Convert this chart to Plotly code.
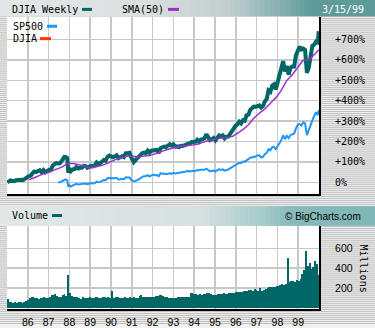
import numpy as np
import pandas as pd
import plotly.graph_objects as go

W, H = 375, 328

# ---------------- data ----------------
# DJIA month-end levels, Jan 1985 .. Feb 1999
djia_monthly = [
    1277, 1299, 1267, 1258, 1315, 1336, 1347, 1334, 1329, 1374, 1472, 1547,
    1571, 1709, 1819, 1784, 1877, 1893, 1775, 1898, 1768, 1878, 1914, 1896,
    2158, 2224, 2305, 2286, 2292, 2419, 2572, 2663, 2596, 1994, 1834, 1939,
    1958, 2072, 1988, 2032, 2031, 2142, 2129, 2032, 2113, 2149, 2115, 2169,
    2342, 2258, 2294, 2419, 2480, 2440, 2661, 2737, 2693, 2645, 2706, 2753,
    2591, 2627, 2707, 2657, 2877, 2881, 2905, 2614, 2453, 2442, 2560, 2634,
    2736, 2882, 2914, 2888, 3028, 2907, 3025, 3044, 3017, 3069, 2895, 3169,
    3224, 3267, 3236, 3359, 3397, 3319, 3394, 3257, 3272, 3226, 3305, 3301,
    3310, 3371, 3435, 3428, 3527, 3516, 3540, 3651, 3555, 3681, 3684, 3754,
    3978, 3832, 3636, 3682, 3758, 3625, 3765, 3913, 3843, 3908, 3739, 3834,
    3844, 4011, 4158, 4321, 4465, 4556, 4708, 4611, 4789, 4756, 5075, 5117,
    5395, 5486, 5587, 5569, 5643, 5655, 5529, 5616, 5882, 6029, 6522, 6448,
    6813, 6878, 6584, 7009, 7331, 7673, 8223, 7622, 7945, 7442, 7823, 7908,
    7907, 8546, 8800, 9063, 8900, 8952, 8883, 7539, 7843, 8592, 9117, 9181,
    9359, 9307,
]
djia_extra_dates = ["1985-01-04", "1987-08-25", "1987-10-19", "1990-10-11", "1999-03-15"]
djia_extra_vals = [1185, 2722, 1739, 2365, 9958]

# S&P 500 month-end levels, Apr 1987 .. Feb 1999
sp500_monthly = [
    288.4, 290.1, 304.0, 318.7, 329.8, 321.8, 251.8, 230.3, 247.1,
    257.1, 267.8, 258.9, 261.3, 262.2, 273.5, 272.0, 261.5, 271.9, 278.9, 273.7, 277.7,
    297.5, 288.9, 294.9, 309.6, 320.5, 318.0, 346.1, 351.5, 349.2, 340.4, 346.0, 353.4,
    329.1, 331.9, 339.9, 330.8, 361.2, 358.0, 356.2, 322.6, 306.1, 304.0, 322.2, 330.2,
    343.9, 367.1, 375.2, 375.3, 389.8, 371.2, 387.8, 395.4, 387.9, 392.5, 375.2, 417.1,
    408.8, 412.7, 403.7, 415.0, 415.4, 408.1, 424.2, 414.0, 417.8, 418.7, 431.4, 435.7,
    438.8, 443.4, 451.7, 440.2, 450.2, 450.5, 448.1, 463.6, 458.9, 467.8, 461.8, 466.5,
    481.6, 467.1, 445.8, 450.9, 456.5, 444.3, 458.3, 475.5, 462.7, 472.4, 453.7, 459.3,
    470.4, 487.4, 500.7, 514.7, 533.4, 544.8, 562.1, 561.9, 584.4, 581.5, 605.4, 615.9,
    636.0, 640.4, 645.5, 654.2, 669.1, 670.6, 640.0, 652.0, 687.3, 705.3, 757.0, 740.7,
    786.2, 790.8, 757.1, 801.3, 848.3, 885.1, 954.3, 899.5, 947.3, 914.6, 955.4, 970.4,
    980.3, 1049.3, 1101.8, 1111.8, 1090.8, 1133.8, 1120.7, 957.3, 1017.0, 1098.7, 1163.6, 1229.2,
    1279.6, 1238.3,
]
sp500_extra_dates = ["1987-10-19", "1999-03-15"]
sp500_extra_vals = [224.8, 1307.3]

# 50-week SMA of DJIA, quarter ends Dec 1985 .. Dec 1998, then 3/15/99
sma50_quarterly = [
    1346,
    1451, 1588, 1707, 1815,
    1948, 2068, 2267, 2274,
    2218, 2152, 2022, 2078,
    2151, 2245, 2396, 2536,
    2622, 2711, 2701, 2662,
    2713, 2747, 2840, 2965,
    3064, 3168, 3238, 3296,
    3329, 3362, 3430, 3538,
    3649, 3698, 3763, 3793,
    3840, 4030, 4245, 4534,
    4906, 5199, 5443, 5780,
    6097, 6526, 7090, 7438,
    7852, 8261, 8300, 8610,
    8891,
]

# Volume (millions), monthly Jan 1985 .. Mar 1999
volume_monthly = [
    90, 58, 55, 52, 56, 54, 58, 55, 52, 62, 72, 75,
    98, 105, 110, 98, 95, 92, 98, 102, 112, 95, 102, 108,
    128, 125, 135, 120, 110, 112, 125, 140, 122, 333, 150, 118,
    112, 108, 105, 100, 92, 110, 98, 95, 98, 105, 102, 100,
    110, 105, 100, 104, 110, 108, 100, 112, 104, 175, 100, 105,
    110, 100, 98, 96, 108, 100, 104, 112, 100, 105, 98, 104,
    118, 130, 112, 110, 108, 105, 110, 108, 112, 115, 118, 128,
    128, 118, 105, 108, 100, 102, 100, 98, 102, 106, 110, 108,
    110, 112, 108, 112, 155, 150, 140, 135, 132, 138, 132, 135,
    142, 145, 155, 138, 128, 132, 130, 140, 142, 138, 150, 140,
    142, 145, 150, 148, 152, 160, 165, 158, 160, 168, 172, 168,
    178, 185, 175, 195, 178, 172, 200, 175, 182, 195, 205, 210,
    210, 215, 208, 225, 218, 230, 240, 235, 245, 507, 260, 270,
    275, 265, 280, 275, 290, 340, 380, 573, 420, 450, 390, 410,
    470, 440, 330,
]

pct_ticks = [0, 100, 200, 300, 400, 500, 600, 700]
pct_labels = ["0%", "+100%", "+200%", "+300%", "+400%", "+500%", "+600%", "+700%"]
vol_ticks = [200, 400, 600]
vol_labels = ["200", "400", "600"]
year_labels = ["86", "87", "88", "89", "90", "91", "92", "93",
               "94", "95", "96", "97", "98", "99"]

# ---------------- build series ----------------
djia = pd.concat([
    pd.Series(djia_monthly, index=pd.date_range("1985-01-31", periods=len(djia_monthly), freq="ME")),
    pd.Series(djia_extra_vals, index=pd.to_datetime(djia_extra_dates)),
]).sort_index()
djia_base = djia.iloc[0]
djia_pct = (djia / djia_base - 1) * 100

sp = pd.concat([
    pd.Series(sp500_monthly, index=pd.date_range("1987-04-30", periods=len(sp500_monthly), freq="ME")),
    pd.Series(sp500_extra_vals, index=pd.to_datetime(sp500_extra_dates)),
]).sort_index()
sp_pct = (sp / sp.iloc[0] - 1) * 100

sma_idx = list(pd.date_range("1985-12-31", periods=len(sma50_quarterly) - 1, freq="QE")) + [pd.Timestamp("1999-03-15")]
sma = pd.Series(sma50_quarterly, index=sma_idx)
sma_pct = (sma / djia_base - 1) * 100

vol_dates = pd.date_range("1985-01-01", periods=len(volume_monthly), freq="MS") + pd.Timedelta(days=14)

x_start = pd.Timestamp("1985-01-01")
x_end = pd.Timestamp("1999-03-20")
span = x_end - x_start
grid_x = [x_start + span * i / 15 for i in range(1, 15)]

TEAL = "#006666"
PURPLE = "#9933CC"
BLUE = "#1E96FF"
RED = "#FF3300"
GRID = "#C8C8C8"
MONO = "DejaVu Sans Mono"
SANS = "Liberation Sans"

fig = go.Figure()
fig.add_trace(go.Scatter(x=sp_pct.index, y=sp_pct.values, mode="lines",
                         line=dict(color=BLUE, width=2), xaxis="x", yaxis="y"))
fig.add_trace(go.Scatter(x=djia_pct.index, y=djia_pct.values, mode="lines",
                         line=dict(color=TEAL, width=4), xaxis="x", yaxis="y"))
fig.add_trace(go.Scatter(x=sma_pct.index, y=sma_pct.values, mode="lines",
                         line=dict(color=PURPLE, width=1.5, shape="spline", smoothing=0.6),
                         xaxis="x", yaxis="y"))
fig.add_trace(go.Bar(x=vol_dates, y=volume_monthly, marker=dict(color=TEAL, line=dict(width=0)),
                     width=31 * 86400000, xaxis="x2", yaxis="y2"))


def px(x):
    return x / W


def py(y):
    return 1 - y / H


def hexmix(c1, c2, t):
    a = [int(c1[i:i + 2], 16) for i in (1, 3, 5)]
    b = [int(c2[i:i + 2], 16) for i in (1, 3, 5)]
    return "#%02x%02x%02x" % tuple(int(round(a[k] + (b[k] - a[k]) * t)) for k in range(3))


def gradient(stops, x):
    for (x0, c0), (x1, c1) in zip(stops[:-1], stops[1:]):
        if x0 <= x <= x1:
            return hexmix(c0, c1, (x - x0) / (x1 - x0) if x1 > x0 else 0)
    return stops[-1][1]


shapes = []
# striped background
path = " ".join("M0,%.5f L1,%.5f" % (py(r + 0.5), py(r + 0.5)) for r in range(0, H, 2))
shapes.append(dict(type="path", xref="paper", yref="paper", path=path,
                   line=dict(color="#BEBEBE", width=1), layer="below"))

# header band and volume band gradients
head_stops = [(0, "#E4E7E7"), (150, "#DADFDF"), (230, "#BFCDCD"), (290, "#7BAAAA"), (310, "#5E9A9A"), (375, "#5E9A9A")]
vol_stops = [(0, "#E2E8E8"), (200, "#D5E0E0"), (260, "#A8CCCC"), (290, "#88BBBB"), (375, "#80B6B6")]
step = 5
for x0 in range(0, W, step):
    shapes.append(dict(type="rect", xref="paper", yref="paper", x0=px(x0), x1=px(x0 + step),
                       y0=py(16.5), y1=py(0), fillcolor=gradient(head_stops, x0 + step / 2),
                       line=dict(width=0), layer="below"))
    shapes.append(dict(type="rect", xref="paper", yref="paper", x0=px(x0), x1=px(x0 + step),
                       y0=py(228), y1=py(208), fillcolor=gradient(vol_stops, x0 + step / 2),
                       line=dict(width=0), layer="below"))

# white plot areas
shapes.append(dict(type="rect", xref="paper", yref="paper", x0=px(7), x1=px(319), y0=py(196), y1=py(17),
                   fillcolor="white", line=dict(width=0), layer="below"))
shapes.append(dict(type="rect", xref="paper", yref="paper", x0=px(7), x1=px(319), y0=py(312), y1=py(228),
                   fillcolor="white", line=dict(width=0), layer="below"))

# legend swatches
def swatch(x0, x1, y, color):
    shapes.append(dict(type="line", xref="paper", yref="paper", x0=px(x0), x1=px(x1), y0=py(y), y1=py(y),
                       line=dict(color=color, width=3)))


swatch(82, 92, 9.5, TEAL)
swatch(168, 179, 9.5, PURPLE)
swatch(47, 57, 26.5, BLUE)
swatch(40, 51, 39, RED)
swatch(52, 62, 217.5, TEAL)

annotations = []


def label(text, x, y, font, size, color="black", anchor="left", angle=0):
    annotations.append(dict(text=text, x=px(x), y=py(y), xref="paper", yref="paper",
                            xanchor=anchor, yanchor="middle", showarrow=False, textangle=angle,
                            font=dict(family=font, size=size, color=color)))


label("DJIA Weekly", 10, 9.5, MONO, 10)
label("SMA(50)", 120, 9.5, MONO, 10)
label("3/15/99", 320, 9.5, MONO, 10, color="white")
label("SP500", 11, 26.5, MONO, 10)
label("DJIA", 11, 39, MONO, 10)
label("Volume", 10, 217.5, MONO, 10)
label("© BigCharts.com", 283, 218.5, SANS, 10)
label("Millions", 363, 271, MONO, 10, angle=90, anchor="center")

fig.update_layout(
    width=W, height=H, autosize=False,
    margin=dict(l=0, r=0, t=0, b=0, pad=0),
    paper_bgcolor="#F2F2F2", plot_bgcolor="white",
    showlegend=False,
    shapes=shapes, annotations=annotations,
    xaxis=dict(domain=[px(7), px(319)], anchor="y", type="date", range=[x_start, x_end],
               tickvals=grid_x, showticklabels=False, ticks="", showgrid=True,
               gridcolor=GRID, gridwidth=1.5, showline=True, linecolor="black", linewidth=2,
               zeroline=False, fixedrange=True),
    yaxis=dict(domain=[py(196), py(17)], anchor="x", side="right", range=[-58, 811],
               tickvals=pct_ticks, ticktext=pct_labels, ticks="", ticklabelstandoff=12,
               tickfont=dict(family=MONO, size=10, color="black"),
               showgrid=True, gridcolor=GRID, gridwidth=1.5, zeroline=False,
               showline=True, linecolor="black", linewidth=2, fixedrange=True),
    xaxis2=dict(domain=[px(7), px(319)], anchor="y2", type="date", range=[x_start, x_end],
                tickvals=grid_x, ticktext=year_labels, ticks="", ticklabelstandoff=2,
                tickfont=dict(family=SANS, size=10.5, color="black"),
                showgrid=True, gridcolor=GRID, gridwidth=1.5,
                showline=True, linecolor="black", linewidth=2, zeroline=False, fixedrange=True),
    yaxis2=dict(domain=[py(312), py(228)], anchor="x2", side="right", range=[-13, 827],
                tickvals=vol_ticks, ticktext=vol_labels, ticks="", ticklabelstandoff=12,
                tickfont=dict(family=SANS, size=10.5, color="black"),
                showgrid=True, gridcolor=GRID, gridwidth=1.5, zeroline=False,
                showline=True, linecolor="black", linewidth=2, fixedrange=True),
    bargap=0,
)

fig.write_html("out.html", config={"displayModeBar": False, "staticPlot": True})
